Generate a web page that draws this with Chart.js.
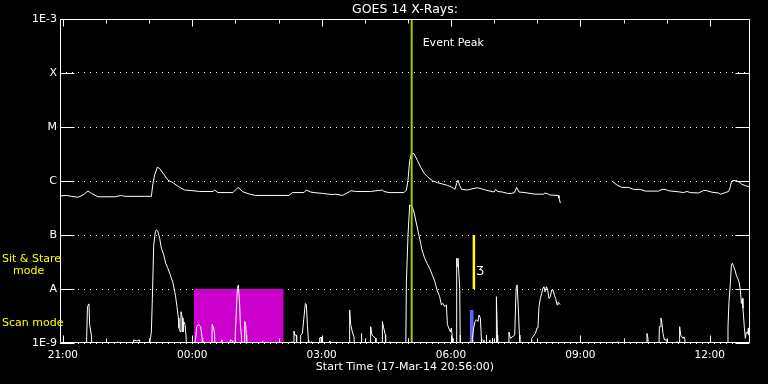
<!DOCTYPE html>
<html>
<head>
<meta charset="utf-8">
<script src="https://cdn.jsdelivr.net/npm/chart.js@4.4.1/dist/chart.umd.min.js"></script>
<style>
  html, body { margin: 0; padding: 0; background: #000; }
</style>
</head>
<body>
<canvas id="goesChart" width="768" height="384"></canvas>
<script>
// x = hours after 21:00 UT, 17-Mar-14 (plot runs 20:56 -> 12:56)
const startHour = -4 / 60;
const endHour = 16 - 4 / 60;
const hourTicks = [0, 1, 2, 3, 4, 5, 6, 7, 8, 9, 10, 11, 12, 13, 14, 15];
const hourLabels = ['21:00', '00:00', '03:00', '06:00', '09:00', '12:00']; // one every 3 h

const fluxTicks = [1e-9, 1e-8, 1e-7, 1e-6, 1e-5, 1e-4, 1e-3];
const fluxLabels = ['1E-9', 'A', 'B', 'C', 'M', 'X', '1E-3'];

const LOW = 5e-10; // reading sits under the 1E-9 floor

// 1-8 A channel [hour, W/m2]
const longChannel = [
  [-0.067, 5.3e-7], [0.081, 5.4e-7], [0.197, 5.2e-7], [0.350, 5.0e-7], [0.466, 5.5e-7],
  [0.582, 6.5e-7], [0.661, 5.9e-7], [0.814, 5.1e-7], [1.201, 5.1e-7], [1.357, 5.4e-7],
  [1.433, 5.2e-7], [2.052, 5.2e-7], [2.089, 9.1e-7], [2.129, 1.3e-6], [2.191, 1.8e-6],
  [2.245, 1.7e-6], [2.321, 1.4e-6], [2.437, 1.04e-6], [2.553, 9.3e-7], [2.709, 7.6e-7],
  [2.825, 6.8e-7], [3.017, 6.6e-7], [3.172, 6.4e-7], [3.481, 6.4e-7], [3.520, 6.8e-7],
  [3.597, 6.1e-7], [3.944, 6.1e-7], [4.060, 7.6e-7], [4.176, 6.3e-7], [4.332, 5.7e-7],
  [4.471, 5.4e-7], [5.243, 5.4e-7], [5.322, 6.1e-7], [5.591, 6.1e-7], [5.647, 6.8e-7],
  [5.746, 6.25e-7], [5.823, 6.1e-7], [6.017, 5.9e-7], [6.249, 5.6e-7], [6.326, 5.7e-7],
  [6.481, 5.4e-7], [6.634, 6.25e-7], [6.674, 6.6e-7], [6.790, 6.4e-7], [7.137, 6.4e-7],
  [7.409, 6.8e-7], [7.446, 6.4e-7], [7.562, 6.1e-7], [7.910, 6.1e-7], [7.966, 6.8e-7],
  [8.003, 1.04e-6], [8.042, 2.4e-6], [8.088, 3.3e-6], [8.142, 3.2e-6], [8.221, 2.4e-6],
  [8.297, 1.8e-6], [8.374, 1.4e-6], [8.453, 1.2e-6], [8.568, 1.01e-6], [8.684, 9.3e-7],
  [8.800, 8.8e-7], [8.916, 8.3e-7], [9.032, 7.6e-7], [9.093, 7.0e-7], [9.132, 9.1e-7],
  [9.162, 1.04e-6], [9.201, 8.3e-7], [9.248, 7.0e-7], [9.380, 6.8e-7], [9.533, 7.3e-7],
  [9.612, 7.5e-7], [9.804, 6.8e-7], [9.997, 6.25e-7], [10.036, 7.0e-7], [10.075, 6.4e-7],
  [10.191, 6.25e-7], [10.307, 5.9e-7], [10.407, 5.9e-7], [10.470, 6.1e-7], [10.523, 7.6e-7],
  [10.577, 6.25e-7], [10.716, 6.1e-7], [10.948, 5.7e-7], [11.142, 5.7e-7], [11.179, 6.0e-7],
  [11.258, 5.7e-7], [11.295, 5.5e-7], [11.490, 5.4e-7], [11.504, 4.8e-7], [11.536, 3.9e-7],
  [11.600, null],
  [12.755, 9.7e-7], [12.848, 8.4e-7], [12.963, 7.6e-7], [13.119, 7.6e-7], [13.235, 7.0e-7],
  [13.388, 7.0e-7], [13.504, 6.5e-7], [13.815, 6.5e-7], [13.891, 7.0e-7], [13.968, 7.0e-7],
  [14.047, 6.6e-7], [14.279, 6.3e-7], [14.395, 6.1e-7], [14.471, 6.4e-7], [14.548, 6.1e-7],
  [14.743, 6.0e-7], [14.859, 6.7e-7], [14.936, 6.6e-7], [15.052, 6.2e-7], [15.207, 6.0e-7],
  [15.244, 5.7e-7], [15.360, 6.1e-7], [15.439, 6.4e-7], [15.476, 7.8e-7], [15.508, 1.0e-6],
  [15.591, 1.03e-6], [15.670, 9.7e-7], [15.746, 8.7e-7], [15.823, 8.2e-7], [15.916, 7.8e-7],
  [15.933, 7.7e-7]
];

// 0.5-4 A channel [hour, W/m2]
const shortChannel = [
  [-0.067, LOW], [0.540, LOW], [0.570, 4.7e-9], [0.605, 5.3e-9], [0.621, 2.2e-9],
  [0.661, 1.4e-9], [0.684, LOW], [1.264, LOW], [1.271, 1.06e-9], [1.278, LOW],
  [1.635, LOW], [1.642, 1.14e-9], [1.712, 1.09e-9], [1.781, 1.14e-9], [1.790, LOW],
  [2.001, LOW], [2.024, 1.14e-9], [2.052, 1.6e-9], [2.075, 6.7e-9], [2.106, 6.5e-8],
  [2.145, 1.15e-7], [2.168, 1.24e-7], [2.198, 1.19e-7], [2.245, 8.7e-8], [2.284, 5.7e-8],
  [2.338, 4.3e-8], [2.384, 3.0e-8], [2.437, 2.4e-8], [2.493, 1.8e-8], [2.553, 1.3e-8],
  [2.609, 7.7e-9], [2.646, 4.7e-9], [2.678, 2.9e-9], [2.692, 1.9e-9], [2.725, 1.6e-9],
  [2.739, 3.8e-9], [2.771, 2.9e-9], [2.785, 1.6e-9], [2.801, 2.5e-9], [2.831, 2.2e-9],
  [2.855, 1.4e-9], [2.878, LOW], [3.010, LOW], [3.079, 1.24e-9], [3.103, 2.0e-9],
  [3.149, 2.2e-9], [3.195, 2.0e-9], [3.230, 1.24e-9], [3.242, LOW], [3.450, LOW],
  [3.462, 2.2e-9], [3.497, 1.9e-9], [3.520, 1.4e-9], [3.532, LOW], [3.682, LOW],
  [3.689, 1.14e-9], [3.699, LOW], [3.872, LOW], [3.879, 1.14e-9], [3.937, 1.09e-9],
  [3.945, LOW], [3.988, LOW], [4.000, 1.6e-9], [4.046, 1.03e-8], [4.070, 1.19e-8],
  [4.100, 5.1e-9], [4.116, 2.2e-9], [4.139, 1.4e-9], [4.162, LOW], [4.204, LOW],
  [4.216, 2.5e-9], [4.239, 2.2e-9], [4.255, 1.4e-9], [4.262, LOW], [4.619, LOW],
  [4.626, 1.09e-9], [4.633, LOW], [5.305, LOW], [5.312, 1.06e-9], [5.320, LOW],
  [5.351, LOW], [5.359, 1.67e-9], [5.375, 1.4e-9], [5.414, 1.4e-9], [5.421, LOW],
  [5.507, LOW], [5.514, 1.4e-9], [5.554, 1.5e-9], [5.584, 2.7e-9], [5.623, 5.4e-9],
  [5.646, 5.1e-9], [5.670, 2.2e-9], [5.693, 1.14e-9], [5.700, LOW], [5.755, LOW],
  [5.762, 1.06e-9], [5.769, LOW], [5.948, LOW], [5.955, 1.24e-9], [5.990, 1.28e-9],
  [5.997, LOW], [6.180, LOW], [6.187, 1.09e-9], [6.194, LOW], [6.643, LOW],
  [6.650, 4.1e-9], [6.674, 2.2e-9], [6.713, 1.6e-9], [6.750, 1.3e-9], [6.783, LOW],
  [6.915, LOW], [6.922, 1.5e-9], [6.929, LOW], [7.130, LOW], [7.137, 2.0e-9],
  [7.168, 1.4e-9], [7.253, 1.22e-9], [7.260, LOW], [7.402, LOW], [7.409, 2.5e-9],
  [7.439, 1.9e-9], [7.478, 1.4e-9], [7.485, LOW], [7.571, LOW], [7.578, 1.06e-9],
  [7.585, LOW], [7.949, LOW], [7.965, 1.28e-8], [8.003, 1.0e-7], [8.042, 3.6e-7],
  [8.100, 3.4e-7], [8.146, 2.55e-7], [8.220, 1.35e-7], [8.297, 7.0e-8], [8.327, 5.3e-8],
  [8.390, 3.7e-8], [8.443, 3.0e-8], [8.506, 2.4e-8], [8.568, 1.8e-8], [8.627, 1.36e-8],
  [8.675, 9.6e-9], [8.737, 7.2e-9], [8.777, 5.1e-9], [8.814, 5.4e-9], [8.853, 4.7e-9],
  [8.893, 5.1e-9], [8.916, 2.2e-9], [8.946, 1.9e-9], [8.986, 1.6e-9], [9.009, 1.9e-9],
  [9.032, 1.22e-9], [9.046, LOW], [9.120, LOW], [9.132, 3.7e-8], [9.148, 2.6e-8],
  [9.162, 3.7e-8], [9.202, 1.03e-8], [9.213, 1.4e-9], [9.217, LOW], [9.489, LOW],
  [9.496, 1.22e-9], [9.526, 1.9e-9], [9.556, 2.5e-9], [9.589, 2.7e-9], [9.626, 2.5e-9],
  [9.649, 3.3e-9], [9.681, 2.9e-9], [9.704, 1.22e-9], [9.711, LOW], [9.757, LOW],
  [9.764, 1.14e-9], [9.771, LOW], [9.813, LOW], [9.820, 1.4e-9], [9.827, LOW],
  [9.890, LOW], [9.897, 1.14e-9], [9.904, LOW], [9.953, LOW], [9.960, 1.22e-9],
  [9.967, LOW], [10.046, LOW], [10.053, 7.2e-9], [10.076, 1.4e-9], [10.083, LOW],
  [10.338, LOW], [10.345, 1.6e-9], [10.377, 1.22e-9], [10.477, 1.4e-9], [10.510, 1.03e-8],
  [10.533, 1.19e-8], [10.557, 5.1e-9], [10.587, 1.4e-9], [10.598, LOW], [10.864, LOW],
  [10.871, 1.22e-9], [10.957, 1.5e-9], [10.994, 1.9e-9], [11.017, 1.9e-9], [11.040, 4.7e-9],
  [11.072, 6.7e-9], [11.103, 8.3e-9], [11.133, 1.03e-8], [11.156, 1.1e-8], [11.180, 8.9e-9],
  [11.212, 1.1e-8], [11.242, 9.6e-9], [11.272, 6.7e-9], [11.304, 7.2e-9], [11.334, 9.6e-9],
  [11.365, 9.6e-9], [11.397, 7.7e-9], [11.427, 6.7e-9], [11.458, 5.1e-9], [11.481, 5.7e-9],
  [11.504, 5.4e-9], [11.536, 5.2e-9], [11.600, null],
  [12.865, LOW], [12.872, 1.06e-9], [12.879, LOW], [13.537, LOW], [13.544, 1.5e-9],
  [13.568, 1.22e-9], [13.572, LOW], [13.816, LOW], [13.832, 2.0e-9], [13.855, 2.0e-9],
  [13.869, 2.9e-9], [13.892, 2.3e-9], [13.916, 1.5e-9], [13.948, 1.14e-9], [14.008, 1.14e-9],
  [14.024, LOW], [14.233, LOW], [14.240, 1.06e-9], [14.247, LOW], [14.295, LOW],
  [14.302, 2.0e-9], [14.326, 1.4e-9], [14.379, 1.22e-9], [14.402, 1.3e-9], [14.425, 1.14e-9],
  [14.432, LOW], [15.416, LOW], [15.423, 2.0e-9], [15.446, 5.8e-9], [15.478, 1.28e-8],
  [15.501, 2.8e-8], [15.525, 3.0e-8], [15.555, 2.6e-8], [15.585, 2.25e-8], [15.617, 1.8e-8],
  [15.647, 1.58e-8], [15.678, 1.36e-8], [15.710, 9.6e-9], [15.733, 5.4e-9], [15.756, 6.7e-9],
  [15.770, 4.4e-9], [15.803, 1.9e-9], [15.826, 1.22e-9], [15.849, 1.6e-9], [15.879, 1.5e-9],
  [15.896, 1.9e-9], [15.909, 1.4e-9], [15.925, 1.6e-9]
];

// event marker and observing windows
const eventPeakHour = 8.088;
const magentaWindow = [3.033, 5.120];           // hours, filled up to 1E-8
const sitStareWindow = [9.496, 9.565];          // hours, from 1E-8 to 1E-7
const sitStareRange = [1e-8, 1e-7];
const scanWindow = [9.433, 9.526];              // hours, up to 4E-9
const scanTop = 4.1e-9;

const toXY = rows => rows.map(r => ({ x: r[0], y: r[1] }));

const frameTicks = {
  id: 'frameTicks',
  afterDraw(chart) {
    const { ctx, chartArea: a, scales: { x, y } } = chart;
    const l = Math.round(a.left) + 0.5, r = Math.round(a.right) - 0.5;
    const t = Math.round(a.top) + 0.5, b = Math.round(a.bottom) - 0.5;
    ctx.save();
    ctx.strokeStyle = '#ffffff';
    ctx.lineWidth = 1;
    ctx.beginPath();
    ctx.rect(l, t, r - l, b - t);
    x.ticks.forEach(tk => {
      const px = Math.round(x.getPixelForValue(tk.value)) + 0.5;
      const len = tk.value % 3 === 0 ? 7 : 4;
      ctx.moveTo(px, t); ctx.lineTo(px, t + len);
      ctx.moveTo(px, b); ctx.lineTo(px, b - len);
    });
    y.ticks.forEach(tk => {
      const py = Math.round(y.getPixelForValue(tk.value)) + 0.5;
      ctx.moveTo(l, py); ctx.lineTo(l + 14, py);
      ctx.moveTo(r, py); ctx.lineTo(r - 14, py);
    });
    ctx.stroke();

    // annotations
    ctx.font = '11px "DejaVu Sans"';
    ctx.textBaseline = 'middle';
    ctx.fillStyle = '#ffffff';
    ctx.fillText('Event Peak', x.getPixelForValue(eventPeakHour) + 11, a.top + 24);
    ctx.font = '12px "DejaVu Sans"';
    ctx.fillText('\u01B7', x.getPixelForValue(9.58), y.getPixelForValue(2.1e-8));

    ctx.font = '11px "DejaVu Sans"';
    ctx.fillStyle = '#ffff00';
    const ss = y.getPixelForValue(2.8e-8);
    ctx.fillText('Sit & Stare', 2, ss - 6);
    ctx.fillText('mode', 13, ss + 6);
    ctx.fillText('Scan mode', 2, y.getPixelForValue(2.3e-9));
    ctx.restore();
  }
};

Chart.defaults.font.family = '"DejaVu Sans", sans-serif';
Chart.defaults.color = '#ffffff';

new Chart(document.getElementById('goesChart'), {
  type: 'line',
  data: {
    datasets: [
      {
        label: 'Event peak',
        data: [{ x: eventPeakHour, y: 1e-3 }, { x: eventPeakHour, y: 1e-9 }],
        borderColor: '#9fd000',
        borderWidth: 2,
        pointRadius: 0,
        order: 0
      },
      {
        label: '1-8 A',
        data: toXY(longChannel),
        borderColor: '#ffffff',
        borderWidth: 1,
        pointRadius: 0,
        spanGaps: false,
        order: 1
      },
      {
        label: '0.5-4 A',
        data: toXY(shortChannel),
        borderColor: '#ffffff',
        borderWidth: 1,
        pointRadius: 0,
        spanGaps: false,
        order: 2
      },
      {
        label: 'Sit & Stare',
        data: [{ x: sitStareWindow[0], y: sitStareRange[1] }, { x: sitStareWindow[1], y: sitStareRange[1] }],
        borderWidth: 0,
        pointRadius: 0,
        backgroundColor: '#ffff00',
        fill: { value: sitStareRange[0] },
        order: 3
      },
      {
        label: 'Scan',
        data: [{ x: scanWindow[0], y: scanTop }, { x: scanWindow[1], y: scanTop }],
        borderWidth: 0,
        pointRadius: 0,
        backgroundColor: '#6464ff',
        fill: 'start',
        order: 4
      },
      {
        label: 'Window',
        data: [{ x: magentaWindow[0], y: 1e-8 }, { x: magentaWindow[1], y: 1e-8 }],
        borderWidth: 0,
        pointRadius: 0,
        backgroundColor: '#cc00cc',
        fill: 'start',
        order: 5
      }
    ]
  },
  options: {
    responsive: false,
    devicePixelRatio: 1,
    animation: false,
    layout: { padding: { right: 18 } },
    plugins: {
      legend: { display: false },
      tooltip: { enabled: false },
      title: {
        display: true,
        text: 'GOES 14 X-Rays:',
        color: '#ffffff',
        fullSize: false,
        font: { size: 12.5, weight: 'normal', lineHeight: 16 / 12.5 },
        padding: { top: 2, bottom: 1 }
      }
    },
    scales: {
      x: {
        type: 'linear',
        min: startHour,
        max: endHour,
        afterBuildTicks: scale => { scale.ticks = hourTicks.map(v => ({ value: v })); },
        afterFit: scale => { scale.height = 41; },
        grid: { display: false, drawTicks: false },
        border: { display: false },
        ticks: {
          autoSkip: false,
          maxRotation: 0,
          padding: 6,
          font: { size: 10.5 },
          callback: v => (v % 3 === 0 ? hourLabels[v / 3] : '')
        },
        title: {
          display: true,
          text: 'Start Time (17-Mar-14 20:56:00)',
          color: '#ffffff',
          font: { size: 11 },
          padding: { top: 0, bottom: 10 }
        }
      },
      y: {
        type: 'logarithmic',
        min: 1e-9,
        max: 1e-3,
        afterBuildTicks: scale => { scale.ticks = fluxTicks.map(v => ({ value: v })); },
        afterFit: scale => { scale.width = 60; },
        grid: { color: '#ffffff', lineWidth: 1, drawTicks: false },
        border: { display: false, dash: [1, 5] },
        ticks: {
          autoSkip: false,
          padding: 3,
          font: { size: 11 },
          callback: (v, i) => fluxLabels[i]
        }
      }
    }
  },
  plugins: [frameTicks]
});
</script>
</body>
</html>
